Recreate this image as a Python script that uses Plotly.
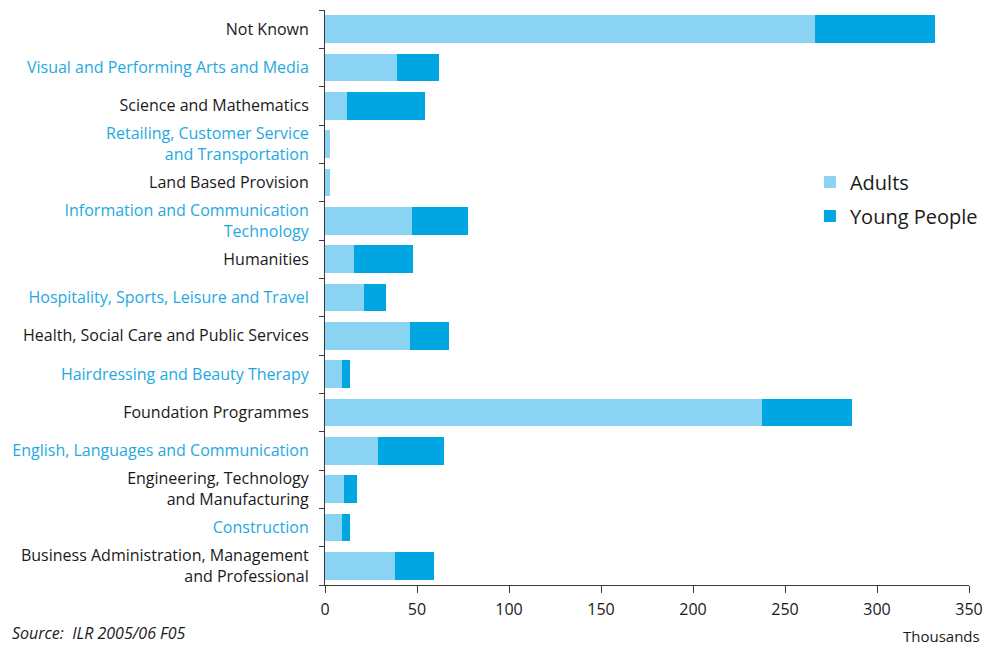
import plotly.graph_objects as go

categories = [
    "Business Administration, Management<br>and Professional",
    "Construction",
    "Engineering, Technology<br>and Manufacturing",
    "English, Languages and Communication",
    "Foundation Programmes",
    "Hairdressing and Beauty Therapy",
    "Health, Social Care and Public Services",
    "Hospitality, Sports, Leisure and Travel",
    "Humanities",
    "Information and Communication<br>Technology",
    "Land Based Provision",
    "Retailing, Customer Service<br>and Transportation",
    "Science and Mathematics",
    "Visual and Performing Arts and Media",
    "Not Known",
]
adults = [38.2, 9.3, 10.5, 28.9, 237.5, 9.3, 46.3, 21.3, 15.9, 47.3, 2.9, 2.9, 12.0, 39.1, 266.5]
young = [21.1, 4.5, 6.9, 35.8, 48.7, 4.5, 21.1, 12.0, 32.0, 30.4, 0.0, 0.0, 42.5, 22.9, 65.0]
x_ticks = [0, 50, 100, 150, 200, 250, 300, 350]

BLACK = "#1a1a1a"
CYAN = "#1ea9e1"
label_colors = [BLACK if i % 2 == 0 else CYAN for i in range(len(categories))]
ticktext = [f"<span style='color:{c}'>{t}</span>" for t, c in zip(categories, label_colors)]

FONT = "Open Sans"

fig = go.Figure()
fig.add_trace(go.Bar(
    y=categories, x=adults, orientation="h", name="Adults",
    marker=dict(color="#8ad3f3", line=dict(width=0)), legendgroup="a",
))
fig.add_trace(go.Bar(
    y=categories, x=young, orientation="h", name="Young People",
    marker=dict(color="#00a6e2", line=dict(width=0)), legendgroup="b",
))

# page body has an 8px default margin, so the figure is sized to fit the window
fig.update_layout(
    barmode="stack",
    bargap=0.28,
    width=989, height=641,
    margin=dict(l=317, r=28, t=2, b=64),
    plot_bgcolor="white", paper_bgcolor="white",
    font=dict(family=FONT, size=16, color=BLACK),
    showlegend=True,
    legend=dict(
        x=0.753, y=0.735, xanchor="left", yanchor="top",
        font=dict(family=FONT, size=20, color=BLACK),
        traceorder="grouped", tracegroupgap=5,
        bgcolor="rgba(0,0,0,0)",
    ),
    xaxis=dict(
        range=[0, 350], tickvals=x_ticks, ticktext=[str(v) for v in x_ticks],
        showgrid=False, zeroline=False,
        showline=True, linecolor="#3a3a3a", linewidth=1,
        ticks="outside", ticklen=7, tickcolor="#3a3a3a",
        tickfont=dict(family=FONT, size=16, color=BLACK),
        ticklabelstandoff=3,
        fixedrange=True,
    ),
    yaxis=dict(
        categoryorder="array", categoryarray=categories,
        tickvals=categories, ticktext=ticktext,
        showgrid=False, zeroline=False,
        showline=True, linecolor="#3a3a3a", linewidth=1,
        ticks="outside", ticklen=5, tickcolor="#3a3a3a", tickson="boundaries",
        tickfont=dict(family=FONT, size=16, color=BLACK),
        ticklabelstandoff=12,
        fixedrange=True,
    ),
    annotations=[
        dict(text="<i>Source:  ILR 2005/06 F05</i>", xref="paper", yref="paper",
             x=-325/644 + 10/644, y=-0.083, xanchor="left", yanchor="middle",
             showarrow=False, font=dict(family=FONT, size=16, color=BLACK)),
        dict(text="Thousands", xref="paper", yref="paper",
             x=1.02, y=-0.088, xanchor="right", yanchor="middle",
             showarrow=False, font=dict(family=FONT, size=15, color=BLACK)),
    ],
)

fig.write_html("out.html")
